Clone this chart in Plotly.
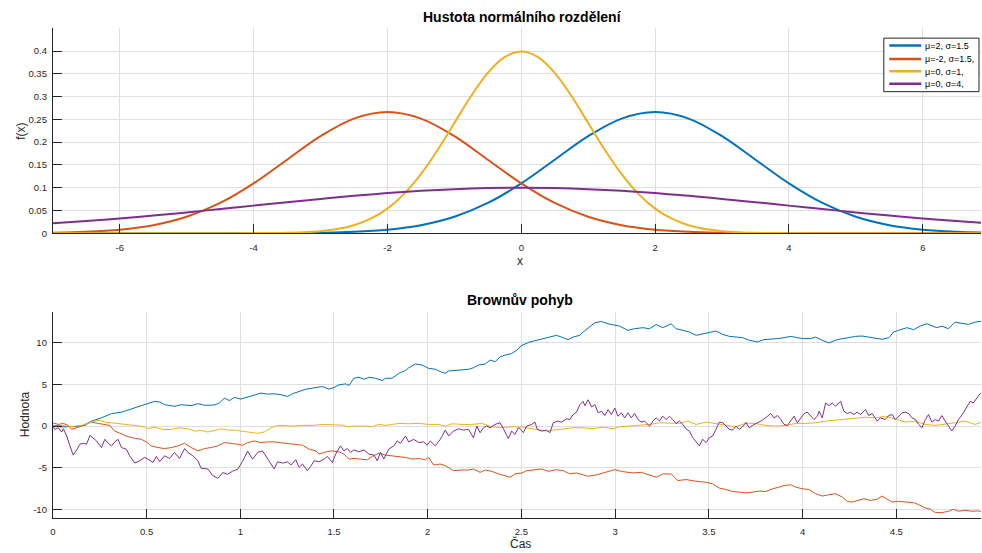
import plotly.graph_objects as go

W, H = 982, 553

# ---------------- normal densities (upper panel) ----------------
x_grid = [-7.0, -6.5, -6.0, -5.5, -5.0, -4.5, -4.0, -3.5, -3.0, -2.5, -2.0, -1.5, -1.0, -0.5,
          0.0, 0.5, 1.0, 1.5, 2.0, 2.5, 3.0, 3.5, 4.0, 4.5, 5.0, 5.5, 6.0, 6.5, 7.0]

pdf_mu2_s15 = [0.0, 0.0, 0.0, 0.000001, 0.000005, 0.00002, 0.00009, 0.00032, 0.00103, 0.00295,
               0.0076, 0.01748, 0.03599, 0.06632, 0.10934, 0.16131, 0.21297, 0.25159, 0.26596,
               0.25159, 0.21297, 0.16131, 0.10934, 0.06632, 0.03599, 0.01748, 0.0076, 0.00295, 0.00103]

pdf_mum2_s15 = [0.00103, 0.00295, 0.0076, 0.01748, 0.03599, 0.06632, 0.10934, 0.16131, 0.21297,
                0.25159, 0.26596, 0.25159, 0.21297, 0.16131, 0.10934, 0.06632, 0.03599, 0.01748,
                0.0076, 0.00295, 0.00103, 0.00032, 0.00009, 0.00002, 0.000005, 0.000001, 0.0, 0.0, 0.0]

# the narrow curve is sampled more densely
x_grid_narrow = [-7.0, -6.0, -5.0, -4.5, -4.0, -3.75, -3.5, -3.25, -3.0, -2.75, -2.5, -2.25,
                 -2.0, -1.75, -1.5, -1.25, -1.0, -0.75, -0.5, -0.25, 0.0, 0.25, 0.5, 0.75,
                 1.0, 1.25, 1.5, 1.75, 2.0, 2.25, 2.5, 2.75, 3.0, 3.25, 3.5, 3.75, 4.0, 4.5,
                 5.0, 6.0, 7.0]
pdf_mu0_s1 = [0.0, 0.0, 0.0000015, 0.000016, 0.000134, 0.000353, 0.00087, 0.00203, 0.00443,
              0.00909, 0.01753, 0.03174, 0.05399, 0.08628, 0.12952, 0.18265, 0.24197, 0.30114,
              0.35207, 0.38667, 0.39894, 0.38667, 0.35207, 0.30114, 0.24197, 0.18265, 0.12952,
              0.08628, 0.05399, 0.03174, 0.01753, 0.00909, 0.00443, 0.00203, 0.00087, 0.000353,
              0.000134, 0.000016, 0.0000015, 0.0, 0.0]

pdf_mu0_s4 = [0.02157, 0.02664, 0.03238, 0.03875, 0.04566, 0.05297, 0.06049, 0.06801, 0.07528,
              0.08204, 0.08802, 0.09296, 0.09667, 0.09896, 0.09974, 0.09896, 0.09667, 0.09296,
              0.08802, 0.08204, 0.07528, 0.06801, 0.06049, 0.05297, 0.04566, 0.03875, 0.03238,
              0.02664, 0.02157]

pdf_names = ["μ=2, σ=1.5", "μ=-2, σ=1.5,", "μ=0, σ=1,", "μ=0, σ=4,"]
colors = ["#0072BD", "#D95319", "#EDB120", "#7E2F8E"]

# ---------------- Brownian paths (lower panel): (time, value) ----------------
path_1 = [
    (0.0, 0.08), (0.109, -0.08), (0.171, 0.08), (0.206, 0.6), (0.26, 1.0), (0.313, 1.5),
    (0.366, 1.67), (0.419, 2.06), (0.472, 2.46), (0.508, 2.7), (0.543, 2.98), (0.57, 2.9),
    (0.596, 2.58), (0.649, 2.38), (0.685, 2.58), (0.738, 2.46), (0.774, 2.7), (0.809, 2.5),
    (0.862, 2.54), (0.889, 2.78), (0.915, 3.37), (0.942, 3.06), (0.968, 3.45), (1.004, 3.25),
    (1.039, 3.49), (1.075, 3.77), (1.11, 3.97), (1.146, 3.85), (1.181, 3.89), (1.217, 3.77),
    (1.252, 3.57), (1.279, 3.89), (1.314, 4.17), (1.35, 4.44), (1.385, 4.56), (1.42, 4.68),
    (1.438, 4.76), (1.474, 4.44), (1.5, 4.64), (1.527, 4.96), (1.562, 5.08), (1.58, 4.88),
    (1.606, 5.75), (1.633, 5.87), (1.66, 5.63), (1.686, 5.87), (1.722, 5.75), (1.757, 5.48),
    (1.775, 5.75), (1.81, 5.75), (1.846, 6.35), (1.881, 6.67), (1.899, 7.02), (1.934, 7.46),
    (1.97, 7.34), (2.005, 6.94), (2.041, 6.83), (2.067, 6.55), (2.094, 6.35), (2.112, 6.63),
    (2.147, 6.67), (2.183, 6.75), (2.218, 6.83), (2.244, 7.02), (2.271, 7.34), (2.307, 7.46),
    (2.333, 7.94), (2.36, 7.74), (2.386, 8.33), (2.413, 8.53), (2.448, 8.73), (2.475, 9.13),
    (2.501, 9.7), (2.546, 10.12), (2.581, 10.32), (2.617, 10.52), (2.652, 10.71), (2.687, 10.91),
    (2.723, 10.63), (2.749, 10.4), (2.776, 10.71), (2.811, 10.91), (2.829, 11.31), (2.856, 11.83),
    (2.891, 12.42), (2.927, 12.58), (2.962, 12.3), (2.989, 12.18), (3.024, 12.02), (3.068, 11.51),
    (3.104, 11.71), (3.148, 11.83), (3.183, 11.71), (3.219, 12.22), (3.254, 11.83), (3.299, 12.3),
    (3.325, 11.71), (3.361, 11.51), (3.396, 11.31), (3.432, 10.91), (3.467, 11.11), (3.503, 11.23),
    (3.538, 11.43), (3.574, 11.03), (3.609, 10.79), (3.645, 10.71), (3.68, 10.63), (3.716, 10.32),
    (3.76, 10.12), (3.795, 10.4), (3.83, 10.44), (3.866, 10.52), (3.901, 10.63), (3.937, 10.79),
    (3.972, 10.63), (4.007, 10.52), (4.043, 10.52), (4.07, 10.71), (4.105, 10.32), (4.14, 10.0),
    (4.176, 10.32), (4.211, 10.52), (4.247, 10.63), (4.282, 10.79), (4.318, 10.83), (4.353, 10.71),
    (4.389, 10.59), (4.424, 10.44), (4.46, 10.63), (4.486, 11.31), (4.521, 11.59), (4.557, 11.83),
    (4.592, 11.59), (4.627, 12.02), (4.663, 12.3), (4.689, 12.1), (4.716, 11.83), (4.743, 12.02),
    (4.778, 11.71), (4.814, 12.5), (4.849, 12.38), (4.884, 12.22), (4.92, 12.5), (4.957, 12.62),
]

path_2 = [
    (0.0, 0.4), (0.029, 0.2), (0.056, 0.32), (0.082, 0.08), (0.1, -0.4), (0.127, -0.2),
    (0.153, 0.0), (0.18, 0.32), (0.206, 0.48), (0.242, 0.32), (0.277, 0.2), (0.304, 0.08),
    (0.33, -0.6), (0.366, -0.99), (0.401, -1.27), (0.437, -1.47), (0.472, -1.59), (0.499, -1.9),
    (0.525, -2.38), (0.561, -2.58), (0.596, -2.7), (0.632, -2.58), (0.667, -2.38), (0.703, -2.06),
    (0.738, -2.58), (0.774, -2.98), (0.809, -2.7), (0.844, -2.58), (0.88, -2.38), (0.915, -1.98),
    (0.951, -2.06), (0.986, -2.18), (1.013, -2.3), (1.039, -1.98), (1.075, -1.79), (1.11, -1.98),
    (1.146, -1.9), (1.181, -1.9), (1.217, -2.0), (1.252, -2.1), (1.296, -2.18), (1.332, -2.3),
    (1.367, -2.78), (1.403, -2.98), (1.42, -3.37), (1.456, -3.1), (1.491, -2.98), (1.527, -3.1),
    (1.553, -3.37), (1.58, -3.97), (1.606, -3.89), (1.642, -3.97), (1.678, -4.05), (1.704, -3.65),
    (1.74, -3.25), (1.775, -3.49), (1.81, -3.57), (1.846, -3.65), (1.881, -3.77), (1.917, -3.97),
    (1.952, -3.89), (1.988, -4.05), (2.005, -3.77), (2.032, -4.68), (2.067, -4.56), (2.094, -4.76),
    (2.138, -5.36), (2.183, -5.28), (2.218, -5.28), (2.244, -5.16), (2.279, -5.56), (2.307, -5.28),
    (2.342, -5.44), (2.378, -5.75), (2.413, -5.95), (2.439, -6.15), (2.466, -5.75), (2.501, -5.65),
    (2.528, -5.36), (2.572, -5.24), (2.607, -5.16), (2.643, -5.44), (2.687, -5.24), (2.723, -5.36),
    (2.758, -5.75), (2.794, -5.63), (2.829, -5.87), (2.856, -6.03), (2.9, -5.87), (2.944, -5.56),
    (2.997, -5.24), (3.042, -5.48), (3.095, -5.63), (3.14, -5.56), (3.184, -5.87), (3.219, -6.15),
    (3.255, -5.75), (3.299, -5.75), (3.334, -6.55), (3.378, -6.43), (3.432, -6.63), (3.485, -6.75),
    (3.52, -6.94), (3.556, -7.46), (3.591, -7.62), (3.627, -7.86), (3.662, -7.94), (3.698, -8.04),
    (3.733, -7.94), (3.768, -7.82), (3.804, -7.86), (3.839, -7.54), (3.875, -7.34), (3.901, -7.14),
    (3.937, -7.06), (3.964, -7.34), (3.999, -7.54), (4.034, -7.62), (4.07, -8.13), (4.105, -8.41),
    (4.141, -8.25), (4.176, -8.13), (4.212, -8.53), (4.238, -9.05), (4.265, -9.13), (4.3, -8.93),
    (4.327, -8.73), (4.362, -8.93), (4.397, -8.81), (4.424, -8.41), (4.451, -8.73), (4.477, -9.13),
    (4.513, -9.05), (4.548, -9.13), (4.592, -9.21), (4.619, -9.44), (4.655, -9.84), (4.681, -10.0),
    (4.708, -10.4), (4.743, -10.4), (4.779, -10.24), (4.805, -10.0), (4.832, -10.24), (4.868, -10.12),
    (4.903, -10.24), (4.938, -10.2), (4.957, -10.32),
]

path_3 = [
    (0.0, 0.08), (0.029, -0.08), (0.056, -0.2), (0.082, -0.08), (0.118, 0.0), (0.153, 0.08),
    (0.189, 0.32), (0.224, 0.6), (0.251, 0.71), (0.277, 0.48), (0.313, 0.4), (0.348, 0.32),
    (0.384, 0.2), (0.419, 0.08), (0.454, 0.0), (0.49, -0.08), (0.507, -0.32), (0.543, -0.12),
    (0.587, -0.4), (0.632, -0.4), (0.676, -0.2), (0.72, -0.32), (0.756, -0.6), (0.791, -0.52),
    (0.827, -0.71), (0.862, -0.48), (0.898, -0.32), (0.933, -0.48), (0.968, -0.48), (1.004, -0.6),
    (1.057, -0.71), (1.093, -0.87), (1.128, -0.71), (1.164, -0.2), (1.199, 0.08), (1.234, 0.04),
    (1.279, 0.0), (1.332, 0.08), (1.385, 0.08), (1.438, 0.2), (1.491, 0.12), (1.544, 0.12),
    (1.571, -0.08), (1.615, 0.0), (1.668, 0.0), (1.704, -0.08), (1.739, 0.2), (1.775, 0.08),
    (1.81, 0.2), (1.846, 0.32), (1.899, 0.28), (1.952, 0.32), (2.005, 0.2), (2.058, 0.2),
    (2.094, 0.0), (2.129, 0.28), (2.183, 0.2), (2.236, 0.2), (2.289, 0.32), (2.342, -0.08),
    (2.395, -0.2), (2.448, -0.08), (2.501, -0.12), (2.528, -0.2), (2.581, -0.4), (2.634, -0.6),
    (2.67, -0.48), (2.723, -0.32), (2.776, -0.2), (2.829, -0.2), (2.882, -0.32), (2.935, -0.12),
    (2.989, -0.32), (3.024, -0.08), (3.077, 0.0), (3.131, 0.12), (3.184, 0.2), (3.237, 0.4),
    (3.29, 0.32), (3.343, 0.32), (3.388, 0.6), (3.432, 0.2), (3.485, 0.48), (3.538, 0.32),
    (3.591, 0.08), (3.645, -0.08), (3.698, 0.36), (3.751, 0.3), (3.804, 0.08), (3.857, 0.0),
    (3.91, 0.08), (3.964, 0.32), (4.017, 0.32), (4.07, 0.4), (4.124, 0.6), (4.177, 0.71),
    (4.23, 0.87), (4.283, 0.99), (4.336, 1.07), (4.39, 0.99), (4.442, 1.19), (4.495, 0.87),
    (4.548, 0.48), (4.602, 0.6), (4.655, 0.2), (4.708, 0.08), (4.761, 0.2), (4.814, 0.4),
    (4.867, 0.6), (4.92, 0.2), (4.957, 0.48),
]

path_4 = [
    (0.0, 0.0), (0.012, -0.4), (0.029, -0.2), (0.047, -0.71), (0.056, -0.32), (0.074, -1.19),
    (0.091, -2.38), (0.109, -3.49), (0.127, -2.86), (0.144, -2.18), (0.162, -2.06), (0.18, -2.18),
    (0.198, -1.11), (0.215, -1.39), (0.233, -1.79), (0.26, -2.58), (0.277, -1.59), (0.295, -2.06),
    (0.313, -2.38), (0.33, -1.9), (0.348, -1.59), (0.366, -2.58), (0.392, -2.78), (0.41, -3.57),
    (0.437, -4.44), (0.463, -4.17), (0.49, -3.77), (0.507, -3.97), (0.534, -4.37), (0.552, -3.65),
    (0.57, -4.29), (0.596, -3.57), (0.623, -3.89), (0.649, -3.17), (0.676, -3.89), (0.703, -2.7),
    (0.72, -3.17), (0.747, -3.57), (0.774, -4.17), (0.791, -5.08), (0.827, -5.16), (0.853, -5.95),
    (0.88, -6.27), (0.906, -5.59), (0.933, -5.79), (0.96, -5.4), (0.986, -5.2), (1.013, -4.21),
    (1.039, -3.02), (1.066, -3.97), (1.093, -3.17), (1.119, -2.98), (1.146, -3.97), (1.181, -5.16),
    (1.199, -4.29), (1.225, -4.45), (1.252, -4.3), (1.27, -4.68), (1.296, -4.05), (1.314, -4.96),
    (1.332, -4.56), (1.358, -5.36), (1.376, -4.84), (1.394, -4.17), (1.42, -4.29), (1.447, -3.97),
    (1.465, -3.65), (1.491, -4.37), (1.509, -3.37), (1.535, -2.38), (1.553, -2.98), (1.571, -2.7),
    (1.589, -3.17), (1.606, -2.86), (1.633, -3.1), (1.66, -2.86), (1.686, -3.37), (1.713, -3.49),
    (1.731, -4.17), (1.748, -3.17), (1.766, -3.97), (1.792, -2.78), (1.819, -2.38), (1.837, -1.79),
    (1.855, -2.06), (1.881, -1.19), (1.899, -1.9), (1.925, -1.59), (1.952, -1.98), (1.979, -1.9),
    (1.997, -2.3), (2.014, -1.79), (2.041, -2.38), (2.067, -1.59), (2.094, -0.48), (2.112, -1.19),
    (2.138, -0.6), (2.165, -0.32), (2.191, -0.48), (2.218, -0.4), (2.244, -1.39), (2.262, 0.0),
    (2.28, -0.79), (2.297, -0.2), (2.315, 0.0), (2.333, -0.2), (2.359, 0.2), (2.386, 0.4),
    (2.404, -0.32), (2.43, -1.51), (2.448, -0.6), (2.466, -0.99), (2.483, -0.2), (2.492, -0.3),
    (2.51, -0.79), (2.528, 0.0), (2.555, 0.2), (2.572, 0.48), (2.585, -0.4), (2.608, -0.6),
    (2.634, -0.48), (2.652, -0.79), (2.67, 0.4), (2.696, 0.6), (2.714, 0.48), (2.741, 0.87),
    (2.758, 0.79), (2.776, 1.39), (2.794, 1.67), (2.812, 2.58), (2.829, 2.98), (2.838, 2.46),
    (2.856, 3.17), (2.874, 2.3), (2.892, 2.58), (2.909, 1.59), (2.927, 1.79), (2.945, 1.27),
    (2.962, 1.98), (2.98, 1.39), (2.998, 2.18), (3.015, 1.19), (3.033, 1.59), (3.051, 0.99),
    (3.068, 1.59), (3.086, 0.99), (3.104, 1.51), (3.122, 0.79), (3.139, 0.48), (3.157, 0.6),
    (3.175, 0.2), (3.184, 0.0), (3.201, 0.6), (3.219, 0.99), (3.237, 0.6), (3.254, 1.19),
    (3.272, 0.79), (3.29, 1.19), (3.307, 0.79), (3.325, 0.32), (3.343, 0.6), (3.361, 0.2),
    (3.378, -0.32), (3.396, -0.6), (3.414, -1.39), (3.432, -1.9), (3.449, -2.38), (3.467, -1.59),
    (3.485, -1.98), (3.503, -1.39), (3.52, -1.19), (3.538, -0.4), (3.556, 0.48), (3.574, 0.4),
    (3.591, 0.0), (3.609, -0.4), (3.627, -0.48), (3.645, 0.0), (3.662, -0.4), (3.68, -0.08),
    (3.698, 0.44), (3.715, -0.2), (3.733, 0.08), (3.76, 0.4), (3.786, 0.71), (3.813, 1.19),
    (3.83, 1.51), (3.848, 0.99), (3.866, 1.27), (3.884, 0.79), (3.901, 0.2), (3.919, 0.08),
    (3.937, 0.71), (3.955, 1.19), (3.972, 0.4), (3.99, 0.99), (4.008, 1.51), (4.025, 1.67),
    (4.043, 1.19), (4.061, 0.79), (4.079, 1.19), (4.088, 1.79), (4.105, 0.99), (4.123, 2.78),
    (4.141, 2.46), (4.158, 2.78), (4.176, 2.38), (4.203, 2.98), (4.22, 1.79), (4.238, 1.51),
    (4.256, 1.67), (4.274, 1.39), (4.291, 1.67), (4.309, 1.39), (4.336, 1.98), (4.353, 1.27),
    (4.371, 1.51), (4.398, 0.6), (4.415, 0.99), (4.442, 0.79), (4.46, 1.27), (4.478, 1.39),
    (4.495, 0.79), (4.513, 1.19), (4.531, 1.59), (4.548, 1.67), (4.566, 1.51), (4.584, 0.99),
    (4.602, 0.79), (4.619, 0.2), (4.637, -0.2), (4.655, 0.79), (4.672, 1.39), (4.69, 0.48),
    (4.708, 0.79), (4.725, 0.6), (4.743, 1.27), (4.761, 0.6), (4.778, 0.0), (4.796, -0.6),
    (4.814, 0.0), (4.832, 0.79), (4.858, 1.59), (4.876, 2.38), (4.894, 2.98), (4.911, 2.78),
    (4.929, 3.37), (4.947, 3.89), (4.957, 3.97),
]

paths = [path_1, path_2, path_3, path_4]

# tick labels
top_x_ticks = [-6, -4, -2, 0, 2, 4, 6]
top_x_labels = ["-6", "-4", "-2", "0", "2", "4", "6"]
top_y_ticks = [0, 0.05, 0.1, 0.15, 0.2, 0.25, 0.3, 0.35, 0.4]
top_y_labels = ["0", "0.05", "0.1", "0.15", "0.2", "0.25", "0.3", "0.35", "0.4"]
bot_x_ticks = [0, 0.5, 1, 1.5, 2, 2.5, 3, 3.5, 4, 4.5]
bot_x_labels = ["0", "0.5", "1", "1.5", "2", "2.5", "3", "3.5", "4", "4.5"]
bot_y_ticks = [-10, -5, 0, 5, 10]
bot_y_labels = ["-10", "-5", "0", "5", "10"]

FONT = "Liberation Sans, Arial, Helvetica, sans-serif"
AX = "#262626"
GRID = "#dfdfdf"


def px_x(p):
    return p / W


def px_y(p):
    return 1 - p / H


fig = go.Figure()

curve_x = [x_grid, x_grid, x_grid_narrow, x_grid]
curve_y = [pdf_mu2_s15, pdf_mum2_s15, pdf_mu0_s1, pdf_mu0_s4]
for xv, yv, name, col in zip(curve_x, curve_y, pdf_names, colors):
    fig.add_trace(go.Scatter(x=xv, y=yv, mode="lines", name=name, showlegend=False,
                             line=dict(color=col, width=2, shape="spline", smoothing=1.0),
                             xaxis="x", yaxis="y", hoverinfo="skip"))

for path, col in zip(paths, colors):
    fig.add_trace(go.Scatter(x=[p[0] for p in path], y=[p[1] for p in path], mode="lines",
                             line=dict(color=col, width=1), showlegend=False,
                             xaxis="x2", yaxis="y2", hoverinfo="skip"))

axis_common = dict(showline=True, linecolor=AX, linewidth=1, ticks="inside", ticklen=9,
                   tickcolor=AX, tickwidth=1, showgrid=True, gridcolor=GRID, gridwidth=1,
                   zeroline=False, mirror=False, tickfont=dict(family=FONT, size=9.5, color=AX))

x_dom = [px_x(50), px_x(981)]

fig.update_layout(
    width=W, height=H,
    margin=dict(l=0, r=0, t=0, b=0),
    paper_bgcolor="white", plot_bgcolor="white",
    showlegend=False,
    xaxis=dict(domain=x_dom, range=[-7, 6.87], anchor="y", tickmode="array",
               tickvals=top_x_ticks, ticktext=top_x_labels, ticklabelstandoff=5, **axis_common),
    yaxis=dict(domain=[px_y(235.3), px_y(28.5)], range=[0, 0.45], anchor="x", tickmode="array",
               tickvals=top_y_ticks, ticktext=top_y_labels, ticklabelstandoff=3, **axis_common),
    xaxis2=dict(domain=x_dom, range=[0, 4.952], anchor="y2", tickmode="array",
                tickvals=bot_x_ticks, ticktext=bot_x_labels, ticklabelstandoff=5, **axis_common),
    yaxis2=dict(domain=[px_y(522.3), px_y(315)], range=[-11, 13.7], anchor="x2", tickmode="array",
                tickvals=bot_y_ticks, ticktext=bot_y_labels, ticklabelstandoff=3, **axis_common),
)

# legend box for the density curves
leg_left, leg_right, leg_top, leg_bottom = 883.5, 979, 38.5, 92.5
leg_rows = [46, 59.5, 72, 84.5]
fig.add_shape(type="rect", xref="paper", yref="paper",
              x0=px_x(leg_left), x1=px_x(leg_right), y0=px_y(leg_bottom), y1=px_y(leg_top),
              line=dict(color=AX, width=1), fillcolor="white", layer="above")
for row, name, col in zip(leg_rows, pdf_names, colors):
    fig.add_shape(type="line", xref="paper", yref="paper",
                  x0=px_x(889), x1=px_x(921), y0=px_y(row), y1=px_y(row),
                  line=dict(color=col, width=2.5), layer="above")
    fig.add_annotation(text=name, x=px_x(922.5), y=px_y(row + 0.5), xref="paper", yref="paper",
                       xanchor="left", yanchor="middle", showarrow=False,
                       font=dict(family=FONT, size=9, color="#000000"))

annots = [
    dict(text="<b>Hustota normálního rozdělení</b>", x=px_x(521), y=px_y(17), size=14, angle=0),
    dict(text="x", x=px_x(519), y=px_y(263), size=12, angle=0),
    dict(text="f(x)", x=px_x(18), y=px_y(132), size=12, angle=-90),
    dict(text="<b>Brownův pohyb</b>", x=px_x(519), y=px_y(303), size=14, angle=0),
    dict(text="Čas", x=px_x(519), y=px_y(548), size=12, angle=0),
    dict(text="Hodnota", x=px_x(22), y=px_y(418), size=12, angle=-90),
]
for a in annots:
    fig.add_annotation(text=a["text"], x=a["x"], y=a["y"], xref="paper", yref="paper",
                       xanchor="center", yanchor="middle", showarrow=False, textangle=a["angle"],
                       font=dict(family=FONT, size=a["size"],
                                 color="#000000" if "<b>" in a["text"] else AX))

fig.write_html("out.html")
